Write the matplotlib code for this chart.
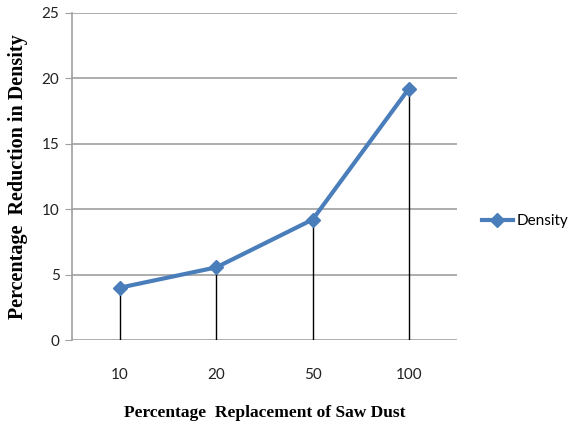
import matplotlib
matplotlib.use("Agg")
import matplotlib.pyplot as plt

categories = ["10", "20", "50", "100"]
density = [4.0, 5.55, 9.2, 19.2]
series_name = "Density"
y_ticks = [0, 5, 10, 15, 20, 25]

fig = plt.figure(figsize=(5.69, 4.30), dpi=100)
ax = fig.add_axes([72/569, 1-340/430, (457-72)/569, (340-12.7)/430])

x = list(range(len(categories)))
ax.vlines(x, 0, density, colors="black", linewidth=1.0, zorder=2)
ax.plot(x, density, color="#4A7EBB", linewidth=3, marker="D", markersize=7,
        markeredgecolor="#4A7EBB", label=series_name, zorder=3)

ax.set_xlim(-0.5, len(categories) - 0.5)
ax.set_ylim(0, 25)
ax.set_yticks(y_ticks)
ax.set_yticklabels([str(v) for v in y_ticks], fontsize=11, family="Lato", color="#222222")
ax.set_xticks(x)
ax.set_xticklabels(categories, fontsize=11, family="Lato", color="#222222")
ax.tick_params(axis="x", length=0, pad=20)
ax.tick_params(axis="y", length=5, color="#a0a0a0", pad=4)
ax.yaxis.grid(True, color="#a0a0a0", linewidth=1.2)
ax.set_axisbelow(True)
for s in ["top", "right", "bottom"]:
    ax.spines[s].set_visible(False)
ax.spines["left"].set_color("#a0a0a0")
ax.spines["left"].set_linewidth(1.2)

ax.set_xlabel("Percentage  Replacement of Saw Dust", fontsize=12.5, family="Liberation Serif",
              fontweight="bold", labelpad=17)
ax.set_ylabel("Percentage  Reduction in Density", fontsize=14.5, family="Liberation Serif",
              fontweight="bold", labelpad=10)

leg = ax.legend(loc="center left", bbox_to_anchor=(1.065, 0.364), frameon=False,
                prop={"family": "Lato", "size": 11}, handlelength=2.0, handletextpad=0.25,
                borderpad=0, borderaxespad=0)

fig.savefig("out.png", dpi=100)
